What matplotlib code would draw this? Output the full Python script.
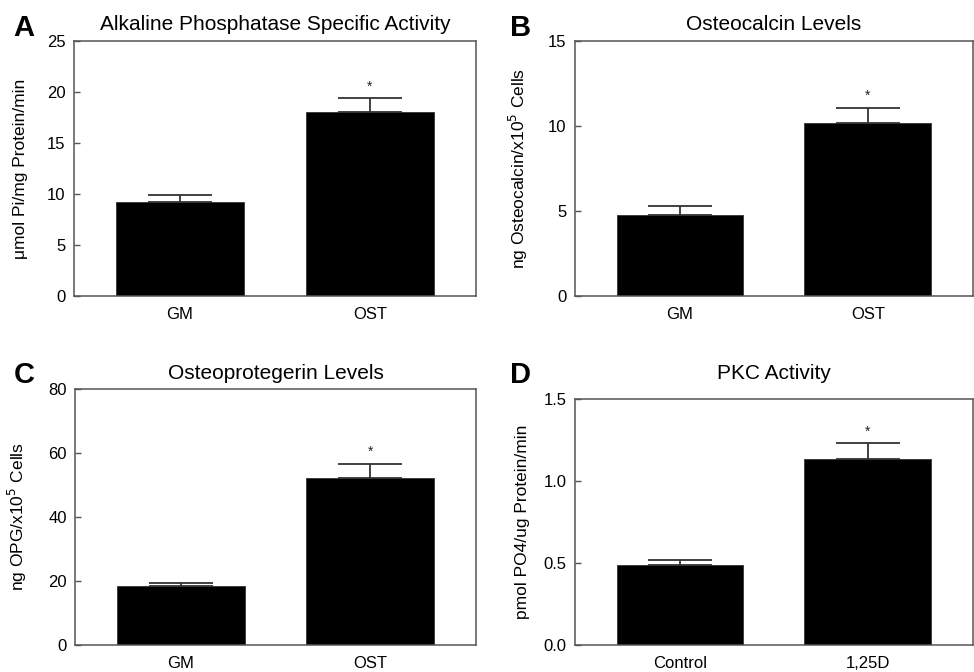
import matplotlib
matplotlib.use("Agg")
import matplotlib.pyplot as plt

plt.rcParams['font.family'] = ['Liberation Sans', 'DejaVu Sans']

# Data
cats_ab = ["GM", "OST"]
alp_vals = [9.2, 18.0]
alp_err = [0.7, 1.4]
oc_vals = [4.76, 10.2]
oc_err = [0.55, 0.88]
opg_vals = [18.3, 52.1]
opg_err = [1.0, 4.5]
cats_d = ["Control", "1,25D"]
pkc_vals = [0.488, 1.134]
pkc_err = [0.032, 0.098]

panels = [
    dict(letter="A", title="Alkaline Phosphatase Specific Activity",
         ylabel="\u03bcmol Pi/mg Protein/min", cats=cats_ab, vals=alp_vals, err=alp_err,
         ylim=(0, 25), yticks=[0, 5, 10, 15, 20, 25], fmt="{:g}",
         rect=(74, 41, 476, 296), star=[False, True],
         letter_xy=(13, 36.5), title_y=29.5),
    dict(letter="B", title="Osteocalcin Levels",
         ylabel="ng Osteocalcin/x10$^5$ Cells", cats=cats_ab, vals=oc_vals, err=oc_err,
         ylim=(0, 15), yticks=[0, 5, 10, 15], fmt="{:g}",
         rect=(575, 41, 973, 296), star=[False, True],
         letter_xy=(510, 36.5), title_y=29.5),
    dict(letter="C", title="Osteoprotegerin Levels",
         ylabel="ng OPG/x10$^5$ Cells", cats=cats_ab, vals=opg_vals, err=opg_err,
         ylim=(0, 80), yticks=[0, 20, 40, 60, 80], fmt="{:g}",
         rect=(75, 389, 476, 645), star=[False, True],
         letter_xy=(14, 383), title_y=378.5),
    dict(letter="D", title="PKC Activity",
         ylabel="pmol PO4/ug Protein/min", cats=cats_d, vals=pkc_vals, err=pkc_err,
         ylim=(0, 1.5), yticks=[0.0, 0.5, 1.0, 1.5], fmt="{:.1f}",
         rect=(575, 399, 973, 645), star=[False, True],
         letter_xy=(510, 383), title_y=378.5),
]

W, H = 974, 672
fig = plt.figure(figsize=(W / 100, H / 100), dpi=100)

for p in panels:
    x0, y0, x1, y1 = p["rect"]
    ax = fig.add_axes([x0 / W, 1 - y1 / H, (x1 - x0) / W, (y1 - y0) / H])
    xs = list(range(len(p["cats"])))
    ax.bar(xs, p["vals"], width=0.675, color="black", edgecolor="#333333", linewidth=0.6, zorder=2)
    ax.errorbar(xs, p["vals"], yerr=[[0] * len(xs), p["err"]], fmt="none",
                ecolor="#333333", elinewidth=1.3, capsize=23, capthick=1.3, zorder=3)
    rng = p["ylim"][1] - p["ylim"][0]
    for x, v, e, s in zip(xs, p["vals"], p["err"], p["star"]):
        if s:
            ax.text(x, v + e + rng * 0.018, "*", ha="center", va="bottom", fontsize=10, color="#222222")
    ax.set_xlim(-0.559, 1.56)
    ax.set_ylim(*p["ylim"])
    ax.set_yticks(p["yticks"])
    ax.set_yticklabels([p["fmt"].format(t) for t in p["yticks"]], fontsize=12)
    ax.set_xticks(xs)
    ax.set_xticklabels(p["cats"], fontsize=12)
    ax.tick_params(axis="x", length=0, pad=8)
    ax.tick_params(axis="y", direction="in", length=4, width=1, color="#555555", pad=6)
    for sp in ax.spines.values():
        sp.set_color("#555555")
        sp.set_linewidth(1.1)
    ax.set_ylabel(p["ylabel"], fontsize=12.5)
    ax.yaxis.set_label_coords(-0.114, 0.5)
    cx = (x0 + x1) / 2 / W
    fig.text(cx, 1 - p["title_y"] / H, p["title"], fontsize=15, ha="center", va="baseline")
    lx, ly = p["letter_xy"]
    fig.text(lx / W, 1 - ly / H, p["letter"], fontsize=21, fontweight="bold",
             ha="left", va="baseline")

fig.savefig("out.png", dpi=100, facecolor="white")
